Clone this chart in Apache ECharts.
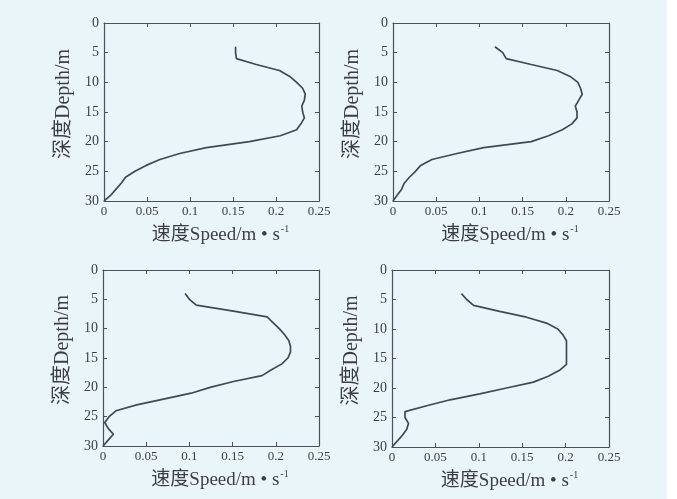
<!DOCTYPE html>
<html><head><meta charset="utf-8">
<script src="https://cdn.jsdelivr.net/npm/echarts@6/dist/echarts.min.js"></script>
<style>html,body{margin:0;padding:0;background:#ffffff;}#c{width:667px;height:499px;}</style>
</head><body><div id="c"></div>
<script>
const depths = [4,5,6,7,8,9,10,11,12,13,14,15,16,17,18,19,20,21,22,23,24,25,26,27,28,29,30];
const speedA = [0.153,0.153,0.154,0.177,0.204,0.216,0.224,0.231,0.234,0.233,0.230,0.231,0.233,0.229,0.224,0.205,0.169,0.119,0.088,0.065,0.049,0.036,0.025,0.020,0.014,0.008,0];
const speedB = [0.118,0.127,0.131,0.160,0.190,0.205,0.214,0.217,0.219,0.215,0.211,0.213,0.213,0.207,0.196,0.180,0.160,0.105,0.074,0.045,0.032,0.026,0.019,0.013,0.010,0.005,0];
const speedC = [0.095,0.100,0.108,0.151,0.190,0.197,0.204,0.210,0.215,0.217,0.217,0.214,0.207,0.195,0.184,0.151,0.124,0.102,0.070,0.039,0.015,0.007,0.002,0.006,0.012,0.006,0];
const speedD = [0.080,0.086,0.094,0.124,0.155,0.178,0.191,0.197,0.201,0.201,0.201,0.201,0.201,0.193,0.180,0.163,0.132,0.101,0.067,0.040,0.015,0.015,0.019,0.017,0.012,0.006,0];
const xTicks = [0,0.05,0.1,0.15,0.2,0.25];
const yTicks = [0,5,10,15,20,25,30];
const yName = '深度Depth/m';
const xName = '速度Speed/m • s';
const xSup = '-1';

const allSpeeds = [speedA, speedB, speedC, speedD];
const grids = [
  {left:104, top:23, width:215, height:178},
  {left:393, top:23, width:216, height:178},
  {left:103, top:270, width:216, height:176},
  {left:392, top:270, width:217, height:177}
];
const axisColor = '#4a5158';
const txtColor = '#3a3f45';
const serif = "'Liberation Serif','Times New Roman','Noto Sans CJK SC',serif";

const xAxes = [], yAxes = [], series = [];
grids.forEach((g, i) => {
  xAxes.push({
    type:'value', gridIndex:i, position:'bottom', min:xTicks[0], max:xTicks[xTicks.length-1], interval:0.05,
    axisLine:{show:true, onZero:false, lineStyle:{color:axisColor, width:1.2}},
    axisTick:{show:true, inside:true, length:4, lineStyle:{color:axisColor}},
    splitLine:{show:false},
    axisLabel:{color:txtColor, fontFamily:serif, fontSize:13, margin:4,
      formatter: v => String(parseFloat(v.toFixed(2)))},
    name:'{a|' + xName + '}{s|' + xSup + '}', nameLocation:'middle', nameGap:23,
    nameTextStyle:{padding:[0,0,0,18], rich:{
      a:{fontFamily:serif, fontSize:19, color:txtColor, lineHeight:22},
      s:{fontFamily:serif, fontSize:10, color:txtColor, verticalAlign:'top', lineHeight:22, padding:[0,0,10,1]}
    }}
  });
  xAxes.push({
    type:'value', gridIndex:i, position:'top', min:0, max:0.25, interval:0.05,
    axisLine:{show:true, onZero:false, lineStyle:{color:axisColor, width:1.2}},
    axisTick:{show:true, inside:true, length:4, lineStyle:{color:axisColor}},
    axisLabel:{show:false}, splitLine:{show:false}
  });
  yAxes.push({
    type:'value', gridIndex:i, position:'left', inverse:true, min:yTicks[0], max:yTicks[yTicks.length-1], interval:5,
    axisLine:{show:true, onZero:false, lineStyle:{color:axisColor, width:1.2}},
    axisTick:{show:true, inside:true, length:4, lineStyle:{color:axisColor}},
    splitLine:{show:false},
    axisLabel:{color:txtColor, fontFamily:serif, fontSize:14, margin:5},
    name:yName, nameLocation:'middle', nameGap:30, nameRotate:90,
    nameTextStyle:{fontFamily:serif, fontSize:20, color:txtColor, padding:[0,0,0,16]}
  });
  yAxes.push({
    type:'value', gridIndex:i, position:'right', inverse:true, min:0, max:30, interval:5,
    axisLine:{show:true, onZero:false, lineStyle:{color:axisColor, width:1.2}},
    axisTick:{show:true, inside:true, length:4, lineStyle:{color:axisColor}},
    axisLabel:{show:false}, splitLine:{show:false}
  });
  series.push({
    type:'line', xAxisIndex:2*i, yAxisIndex:2*i, showSymbol:false, symbol:'none',
    lineStyle:{color:'#3f4952', width:1.7},
    data: depths.map((d, k) => [allSpeeds[i][k], d]),
    animation:false
  });
});

const chart = echarts.init(document.getElementById('c'));
chart.setOption({
  backgroundColor:'#eaf5fa',
  animation:false,
  grid: grids.map(g => Object.assign({containLabel:false}, g)),
  xAxis:xAxes, yAxis:yAxes, series:series
});
</script></body></html>
